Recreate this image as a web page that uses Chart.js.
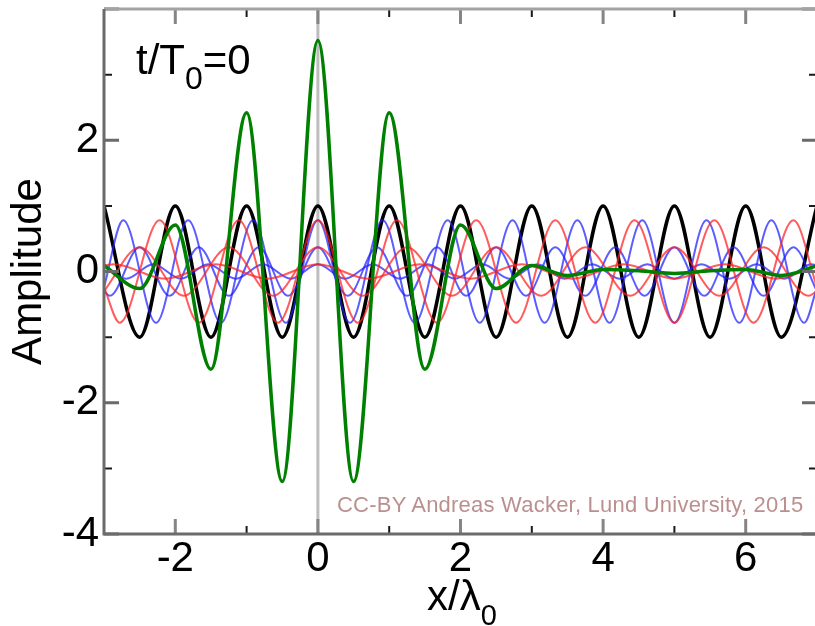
<!DOCTYPE html>
<html lang="en">
<head>
<meta charset="UTF-8">
<title>Wave packet, t/T0 = 0</title>
<script src="https://cdn.jsdelivr.net/npm/chart.js"></script>
<style>
  body {
    margin: 0;
    padding: 0;
    background: #fff;
    font-family: "Liberation Sans", Arial, sans-serif;
  }
  #frame {
    position: relative;
    width: 815px;
    height: 626px;
    overflow: hidden;
  }
  /* plot runs slightly past the right edge, like the original figure */
  #box {
    position: absolute;
    left: 0;
    top: 0;
    width: 822px;
    height: 626px;
  }
  .lbl {
    position: absolute;
    white-space: nowrap;
    line-height: 1;
    color: #000;
  }
  .lbl sub {
    vertical-align: -15px;
    line-height: 1;
  }
  #timeLbl { left: 136px; top: 39px; font-size: 42px; }
  #timeLbl sub { font-size: 32px; }
  #xTitle { left: 427px; top: 575px; font-size: 42px; }
  #xTitle sub { font-size: 29px; }
  #credit {
    left: 337px;
    top: 494px;
    font-size: 22px;
    letter-spacing: 0.22px;
    color: #bc8f8f;
  }
</style>
</head>
<body>
<div id="frame">
  <div id="box"><canvas id="waveChart"></canvas></div>
  <div class="lbl" id="timeLbl">t/T<sub>0</sub>=0</div>
  <div class="lbl" id="xTitle">x/λ<sub>0</sub></div>
  <div class="lbl" id="credit">CC-BY Andreas Wacker, Lund University, 2015</div>
</div>

<script>
  // extrema of each wave [x/λ0, amplitude]; the library's monotone spline joins them
  const blackWave = [[-3,1],[-2.5,-1],[-2,1],[-1.5,-1],[-1,1],[-0.5,-1],[0,1],[0.5,-1],[1,1],[1.5,-1],
    [2,1],[2.5,-1],[3,1],[3.5,-1],[4,1],[4.5,-1],[5,1],[5.5,-1],[6,1],[6.5,-1],[7,1]];

  const redWaveA = [[-3,-0.24],[-2.78,-0.78],[-2.22,0.78],[-1.67,-0.78],[-1.11,0.78],[-0.56,-0.78],[0,0.78],
    [0.56,-0.78],[1.11,0.78],[1.67,-0.78],[2.22,0.78],[2.78,-0.78],[3.33,0.78],[3.89,-0.78],[4.44,0.78],
    [5,-0.78],[5.56,0.78],[6.11,-0.78],[6.67,0.78],[7,-0.24]];
  const redWaveB = [[-3,-0.3],[-2.5,0.37],[-1.88,-0.37],[-1.25,0.37],[-0.63,-0.37],[0,0.37],[0.63,-0.37],
    [1.25,0.37],[1.88,-0.37],[2.5,0.37],[3.13,-0.37],[3.75,0.37],[4.38,-0.37],[5,0.37],[5.63,-0.37],
    [6.25,0.37],[6.88,-0.37],[7,-0.3]];
  const redWaveC = [[-3,0.09],[-2.86,0.11],[-2.14,-0.11],[-1.43,0.11],[-0.71,-0.11],[0,0.11],[0.71,-0.11],
    [1.43,0.11],[2.14,-0.11],[2.86,0.11],[3.57,-0.11],[4.29,0.11],[5,-0.11],[5.71,0.11],[6.43,-0.11],[7,0.09]];

  const blueWaveA = [[-3,-0.24],[-2.73,0.78],[-2.27,-0.78],[-1.82,0.78],[-1.36,-0.78],[-0.91,0.78],[-0.45,-0.78],
    [0,0.78],[0.45,-0.78],[0.91,0.78],[1.36,-0.78],[1.82,0.78],[2.27,-0.78],[2.73,0.78],[3.18,-0.78],
    [3.64,0.78],[4.09,-0.78],[4.55,0.78],[5,-0.78],[5.45,0.78],[5.91,-0.78],[6.36,0.78],[6.82,-0.78],[7,-0.24]];
  const blueWaveB = [[-3,-0.3],[-2.92,-0.37],[-2.5,0.37],[-2.08,-0.37],[-1.67,0.37],[-1.25,-0.37],[-0.83,0.37],
    [-0.42,-0.37],[0,0.37],[0.42,-0.37],[0.83,0.37],[1.25,-0.37],[1.67,0.37],[2.08,-0.37],[2.5,0.37],
    [2.92,-0.37],[3.33,0.37],[3.75,-0.37],[4.17,0.37],[4.58,-0.37],[5,0.37],[5.42,-0.37],[5.83,0.37],
    [6.25,-0.37],[6.67,0.37],[7,-0.3]];
  const blueWaveC = [[-3,0.09],[-2.69,-0.11],[-2.31,0.11],[-1.92,-0.11],[-1.54,0.11],[-1.15,-0.11],[-0.77,0.11],
    [-0.38,-0.11],[0,0.11],[0.38,-0.11],[0.77,0.11],[1.15,-0.11],[1.54,0.11],[1.92,-0.11],[2.31,0.11],
    [2.69,-0.11],[3.08,0.11],[3.46,-0.11],[3.85,0.11],[4.23,-0.11],[4.62,0.11],[5,-0.11],[5.38,0.11],
    [5.77,-0.11],[6.15,0.11],[6.54,-0.11],[6.92,0.11],[7,0.09]];

  // superposition of all components
  const packetSum = [[-3,0.09],[-2.5,-0.26],[-2,0.71],[-1.5,-1.49],[-1,2.42],[-0.5,-3.2],[0,3.52],[0.5,-3.2],
    [1,2.42],[1.5,-1.49],[2,0.71],[2.5,-0.26],[3,0.09],[3.5,-0.06],[4,0.03],[4.5,0.01],[5,-0.03],
    [5.5,0.01],[6,0.03],[6.5,-0.06],[7,0.09]];

  const xTickLabels = [-2, 0, 2, 4, 6];
  const yTickLabels = [-4, -2, 0, 2];

  const fontFamily = '"Liberation Sans", Arial, sans-serif';
  const redLine = 'rgba(255,30,30,0.72)';
  const blueLine = 'rgba(30,30,255,0.72)';

  // zero line, inward tick marks and the box frame
  const frameAndTicks = {
    id: 'frameAndTicks',
    beforeDatasetsDraw(chart) {
      const { ctx, chartArea: a, scales: { x } } = chart;
      const x0 = x.getPixelForValue(0);
      ctx.save();
      ctx.strokeStyle = '#bdbdbd';
      ctx.lineWidth = 3;
      ctx.beginPath();
      ctx.moveTo(x0, a.top);
      ctx.lineTo(x0, a.bottom);
      ctx.stroke();
      ctx.restore();
    },
    afterDatasetsDraw(chart) {
      const { ctx, chartArea: a, scales: { x, y } } = chart;
      ctx.save();
      x.ticks.forEach(t => {
        const px = x.getPixelForValue(t.value);
        const major = t.value % 2 === 0;
        const len = major ? 15 : 8;
        ctx.strokeStyle = major ? '#858585' : '#1a1a1a';
        ctx.lineWidth = major ? 3 : 2;
        ctx.beginPath();
        ctx.moveTo(px, a.bottom);
        ctx.lineTo(px, a.bottom - len);
        ctx.moveTo(px, a.top);
        ctx.lineTo(px, a.top + len);
        ctx.stroke();
      });
      y.ticks.forEach(t => {
        const py = y.getPixelForValue(t.value);
        const major = t.value % 2 === 0;
        const len = major ? 15 : 8;
        ctx.strokeStyle = major ? '#6a6a6a' : '#1a1a1a';
        ctx.lineWidth = major ? 3 : 2;
        ctx.beginPath();
        ctx.moveTo(a.left, py);
        ctx.lineTo(a.left + len, py);
        ctx.moveTo(a.right, py);
        ctx.lineTo(a.right - len, py);
        ctx.stroke();
      });
      // top edge; the right edge falls outside the visible page
      ctx.lineWidth = 3;
      ctx.strokeStyle = '#a3a3a3';
      ctx.beginPath();
      ctx.moveTo(a.left, a.top);
      ctx.lineTo(a.right, a.top);
      ctx.stroke();
      ctx.strokeStyle = '#6b6b6b';
      ctx.beginPath();
      ctx.moveTo(a.left, a.top);
      ctx.lineTo(a.left, a.bottom);
      ctx.lineTo(a.right, a.bottom);
      ctx.stroke();
      ctx.restore();
    }
  };

  function wave(data, color, width, order) {
    return {
      data: data,
      borderColor: color,
      borderWidth: width,
      pointRadius: 0,
      fill: false,
      cubicInterpolationMode: 'monotone',
      order: order
    };
  }

  const ctx = document.getElementById('waveChart').getContext('2d');
  new Chart(ctx, {
    type: 'line',
    data: {
      datasets: [
        wave(packetSum, '#008000', 3.5, 0),
        wave(redWaveA, redLine, 2, 1),
        wave(redWaveB, redLine, 2, 1),
        wave(redWaveC, redLine, 2, 1),
        wave(blueWaveA, blueLine, 2, 1),
        wave(blueWaveB, blueLine, 2, 1),
        wave(blueWaveC, blueLine, 2, 1),
        wave(blackWave, '#000000', 3.5, 2)
      ]
    },
    options: {
      responsive: true,
      maintainAspectRatio: false,
      animation: false,
      layout: { padding: { left: 0, right: 5, top: 9, bottom: 0 } },
      plugins: {
        legend: { display: false },
        tooltip: { enabled: false }
      },
      scales: {
        x: {
          type: 'linear',
          min: -3,
          max: 7,
          grid: { display: false, drawTicks: false },
          border: { display: false },
          ticks: {
            stepSize: 1,
            padding: 0,
            color: '#000',
            maxRotation: 0,
            autoSkip: false,
            font: { family: fontFamily, size: 42 },
            callback: v => xTickLabels.includes(v) ? String(v) : ''
          },
          afterFit: s => { s.height = 92; s.paddingLeft = 0; s.paddingRight = 0; }
        },
        y: {
          min: -4,
          max: 4,
          grid: { display: false, drawTicks: false },
          border: { display: false },
          ticks: {
            stepSize: 1,
            padding: 5,
            color: '#000',
            autoSkip: false,
            font: { family: fontFamily, size: 42 },
            callback: v => yTickLabels.includes(v) ? String(v) : ''
          },
          title: {
            display: true,
            text: 'Amplitude',
            color: '#000',
            padding: { top: 4, bottom: 0 },
            font: { family: fontFamily, size: 42 }
          },
          afterFit: s => { s.width = 104; s.paddingTop = 0; s.paddingBottom = 0; }
        }
      }
    },
    plugins: [frameAndTicks]
  });
</script>
</body>
</html>
